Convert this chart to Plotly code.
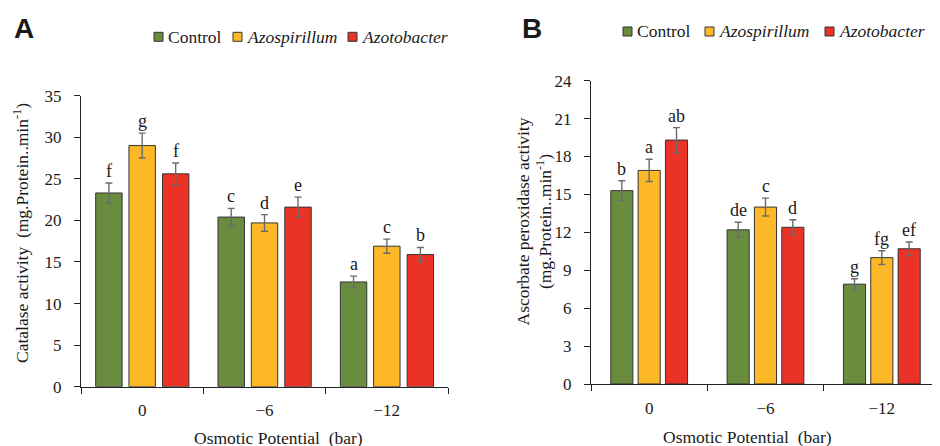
import plotly.graph_objects as go

# ---------------- data ----------------
categories = ["0", "\u22126", "\u221212"]
series_names = ["Control", "Azospirillum", "Azotobacter"]
series_italic = [False, True, True]
colors = ["#6a8c3f", "#fdb827", "#eb3226"]

cat_vals = {
    "Control":      [23.3, 20.4, 12.6],
    "Azospirillum": [29.0, 19.7, 16.9],
    "Azotobacter":  [25.6, 21.6, 15.9],
}
cat_err = {
    "Control":      [1.2, 1.05, 0.7],
    "Azospirillum": [1.5, 1.0, 0.85],
    "Azotobacter":  [1.3, 1.2, 0.85],
}
cat_letters = {
    "Control":      ["f", "c", "a"],
    "Azospirillum": ["g", "d", "c"],
    "Azotobacter":  ["f", "e", "b"],
}

apx_vals = {
    "Control":      [15.3, 12.2, 7.9],
    "Azospirillum": [16.9, 14.0, 10.0],
    "Azotobacter":  [19.3, 12.4, 10.7],
}
apx_err = {
    "Control":      [0.78, 0.6, 0.43],
    "Azospirillum": [0.88, 0.71, 0.54],
    "Azotobacter":  [0.99, 0.6, 0.54],
}
apx_letters = {
    "Control":      ["b", "de", "g"],
    "Azospirillum": ["a", "c", "fg"],
    "Azotobacter":  ["ab", "d", "ef"],
}

cat_yticks = [0, 5, 10, 15, 20, 25, 30, 35]
apx_yticks = [0, 3, 6, 9, 12, 15, 18, 21, 24]

# ---------------- layout constants ----------------
WIN_W, WIN_H = 940, 446
BODY = 8                      # default page margin before the plot div
W, H = WIN_W - BODY, WIN_H - BODY
SERIF = "Liberation Serif, Times New Roman, serif"
SANS = "Liberation Sans, Arial, sans-serif"
TXT = "#1a1a1a"

def px_x(p):
    return (p - BODY) / W

def px_y(p):
    return 1 - (p - BODY) / H

# bar geometry (in category units)
A_width, A_offsets = 0.216, [-0.38, -0.108, 0.166]
B_width, B_offsets = 0.19, [-0.33, -0.095, 0.14]

fig = go.Figure()

panels = [
    dict(vals=cat_vals, err=cat_err, letters=cat_letters, xa="x", ya="y",
         width=A_width, offsets=A_offsets),
    dict(vals=apx_vals, err=apx_err, letters=apx_letters, xa="x2", ya="y2",
         width=B_width, offsets=B_offsets),
]

annotations = []
for p in panels:
    for i, name in enumerate(series_names):
        fig.add_trace(go.Bar(
            x=categories, y=p["vals"][name],
            xaxis=p["xa"], yaxis=p["ya"],
            width=p["width"], offset=p["offsets"][i],
            marker=dict(color=colors[i], line=dict(color="#333333", width=1)),
            error_y=dict(type="data", array=p["err"][name], color="#6b6b6b",
                         thickness=1.4, width=3.5),
            showlegend=False, name=name,
        ))
        for j, cat in enumerate(categories):
            annotations.append(dict(
                x=j + p["offsets"][i] + p["width"] / 2,
                y=p["vals"][name][j] + p["err"][name][j],
                xref=p["xa"], yref=p["ya"],
                text=p["letters"][name][j], showarrow=False,
                yanchor="bottom", xanchor="center",
                font=dict(family=SERIF, size=18, color=TXT),
            ))

axis_common = dict(
    showline=True, linecolor="#222222", linewidth=1.3,
    ticks="outside", ticklen=6, tickcolor="#222222", tickwidth=1.2,
    showgrid=False, zeroline=False, automargin=False,
    tickfont=dict(family=SERIF, size=17, color=TXT),
)

fig.update_layout(
    width=W, height=H, autosize=False,
    margin=dict(l=0, r=0, t=0, b=0, pad=0),
    paper_bgcolor="white", plot_bgcolor="white",
    font=dict(family=SERIF, size=17, color=TXT),
    barmode="overlay",
    xaxis=dict(domain=[px_x(81), px_x(448)], anchor="y", type="category",
               range=[-0.5, 2.5], tickson="boundaries", ticklabelstandoff=8,
               **axis_common),
    yaxis=dict(domain=[px_y(386.7), px_y(95.7)], anchor="x", range=[0, 35],
               tickvals=cat_yticks, ticklabelstandoff=9, **axis_common),
    xaxis2=dict(domain=[px_x(591), 1.0], anchor="y2", type="category",
                range=[-0.5, 2.5], tickson="boundaries", ticklabelstandoff=8,
                **axis_common),
    yaxis2=dict(domain=[px_y(384), px_y(80.7)], anchor="x2", range=[0, 24],
                tickvals=apx_yticks, ticklabelstandoff=9, **axis_common),
)

def paper_text(text, x, y, size, family=SERIF, angle=0, xanchor="center"):
    return dict(text=text, x=px_x(x), y=px_y(y), xref="paper", yref="paper",
                xanchor=xanchor, yanchor="middle", textangle=angle,
                showarrow=False, font=dict(family=family, size=size, color=TXT))

# axis titles and panel labels
annotations += [
    paper_text("Osmotic Potential\u00a0 (bar)", 278, 438, 17.5),
    paper_text("Osmotic Potential\u00a0 (bar)", 747, 437, 17.5),
    paper_text("Catalase activity\u00a0 (mg.Protein..min<sup>-1</sup>)",
               20.5, 233.5, 17.5, angle=-90),
    paper_text("Ascorbate peroxidase activity<br>(mg.Protein..min<sup>-1</sup>)",
               534, 221.5, 17.5, angle=-90),
    paper_text("<b>A</b>", 24, 29, 28, family=SANS),
    paper_text("<b>B</b>", 532, 29, 28, family=SANS),
]

# legends (one per panel)
legend_sq_x = [[154, 233, 348], [623, 705, 825]]
legend_y = [36.8, 31.5]
shapes = []
for k in range(2):
    for i, name in enumerate(series_names):
        x0 = legend_sq_x[k][i]
        yc = legend_y[k]
        shapes.append(dict(type="rect", xref="paper", yref="paper",
                           x0=px_x(x0), x1=px_x(x0 + 9),
                           y0=px_y(yc + 4.5), y1=px_y(yc - 4.5),
                           fillcolor=colors[i],
                           line=dict(color="#333333", width=1)))
        label = f"<i>{name}</i>" if series_italic[i] else name
        annotations.append(paper_text(label, x0 + 12, yc, 17.5, xanchor="left"))

fig.update_layout(annotations=annotations, shapes=shapes)

fig.write_html("out.html")
